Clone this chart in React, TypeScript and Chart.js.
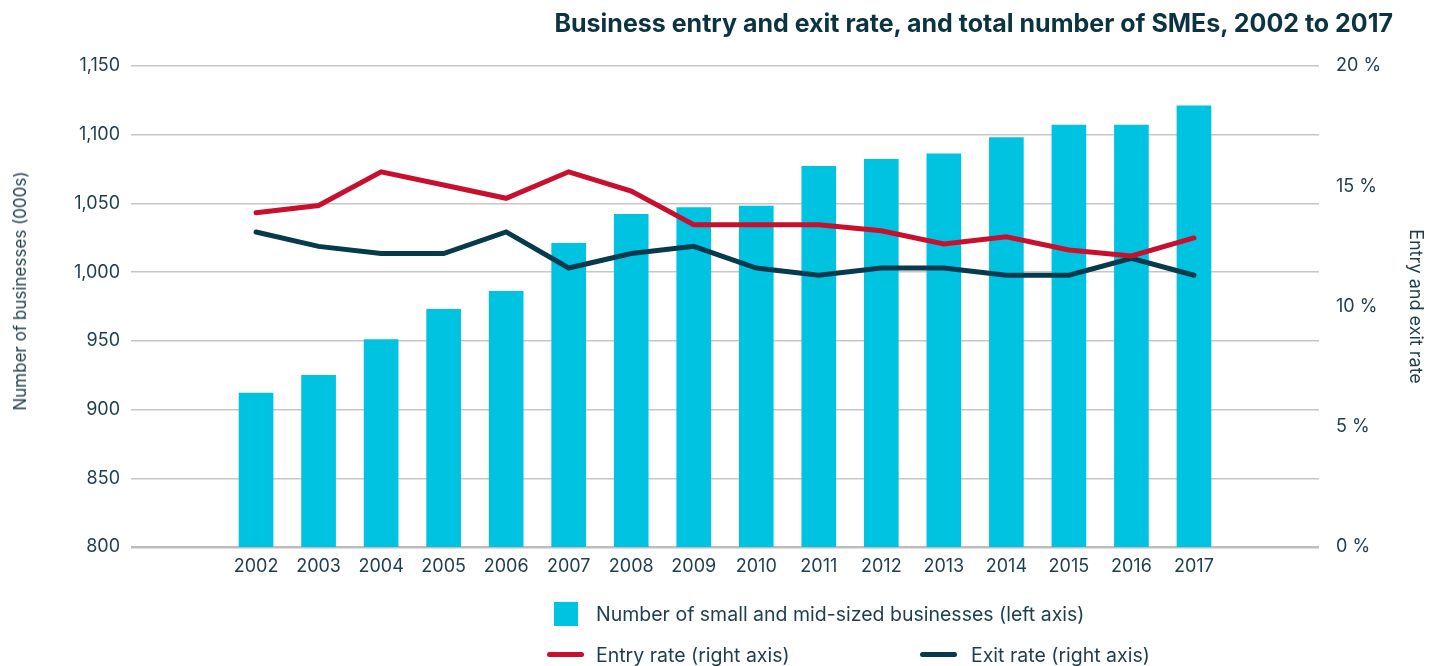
import React, { useEffect, useRef } from 'react';
import { Chart, registerables } from 'chart.js';

Chart.register(...registerables);

const years = ['2002', '2003', '2004', '2005', '2006', '2007', '2008', '2009', '2010', '2011', '2012', '2013', '2014', '2015', '2016', '2017'];
const smeCounts = [912, 925, 951, 973, 986, 1021, 1042, 1047, 1048, 1077, 1082, 1086, 1098, 1107, 1107, 1121];
const entryRate = [13.9, 14.2, 15.6, 15.05, 14.5, 15.6, 14.8, 13.4, 13.4, 13.4, 13.15, 12.6, 12.9, 12.35, 12.1, 12.85];
const exitRate = [13.1, 12.5, 12.2, 12.2, 13.1, 11.6, 12.2, 12.5, 11.6, 11.3, 11.6, 11.6, 11.3, 11.3, 12.0, 11.3];
const leftAxisRange = [800, 1150, 50];
const rightAxisRange = [0, 20, 5];

const TITLE = 'Business entry and exit rate, and total number of SMEs, 2002 to 2017';
const LEFT_TITLE = 'Number of businesses (000s)';
const RIGHT_TITLE = 'Entry and exit rate';
const BAR_LABEL = 'Number of small and mid-sized businesses (left axis)';
const ENTRY_LABEL = 'Entry rate (right axis)';
const EXIT_LABEL = 'Exit rate (right axis)';

const BAR_COLOR = '#00c3e1';
const ENTRY_COLOR = '#c8102e';
const EXIT_COLOR = '#063a4d';
const TEXT_COLOR = '#1c3d4e';
const GRID_COLOR = '#c6c6c6';

const W = 1439;
const H = 666;

const pad = (arr: (number | string)[], fill: any) => [fill, fill, ...arr, fill, fill];

export default function App() {
  const ref = useRef<HTMLCanvasElement | null>(null);

  useEffect(() => {
    if (!ref.current) return;
    const tickFont = { family: 'Inter', size: 18 };
    const chart = new Chart(ref.current, {
      type: 'bar',
      data: {
        labels: pad(years, ''),
        datasets: [
          {
            type: 'line',
            label: ENTRY_LABEL,
            data: pad(entryRate, null),
            yAxisID: 'yR',
            borderColor: ENTRY_COLOR,
            backgroundColor: ENTRY_COLOR,
            borderWidth: 5,
            pointRadius: 0,
            borderCapStyle: 'round',
            tension: 0,
            order: 1,
          } as any,
          {
            type: 'line',
            label: EXIT_LABEL,
            data: pad(exitRate, null),
            yAxisID: 'yR',
            borderColor: EXIT_COLOR,
            backgroundColor: EXIT_COLOR,
            borderWidth: 5,
            pointRadius: 0,
            borderCapStyle: 'round',
            tension: 0,
            order: 2,
          } as any,
          {
            type: 'bar',
            label: BAR_LABEL,
            data: pad(smeCounts, null),
            yAxisID: 'yL',
            backgroundColor: BAR_COLOR,
            barThickness: 34,
            order: 3,
          } as any,
        ],
      },
      options: {
        responsive: false,
        animation: false,
        devicePixelRatio: 1,
        layout: { padding: { top: 66, left: 0, right: 0, bottom: 0 } },
        plugins: {
          legend: { display: false },
          title: { display: false },
          tooltip: { enabled: false },
        },
        scales: {
          x: {
            type: 'category',
            offset: false,
            grid: { display: false, drawTicks: false },
            border: { display: false },
            ticks: {
              autoSkip: false,
              maxRotation: 0,
              minRotation: 0,
              padding: 9,
              color: TEXT_COLOR,
              font: tickFont,
            },
            afterFit: (s: any) => { s.height = H - 547; },
          },
          yL: {
            type: 'linear',
            position: 'left',
            min: leftAxisRange[0],
            max: leftAxisRange[1],
            grid: {
              drawTicks: false,
              color: (c: any) => (c.tick && c.tick.value === leftAxisRange[0] ? '#bdbdbd' : GRID_COLOR),
              lineWidth: (c: any) => (c.tick && c.tick.value === leftAxisRange[0] ? 2.5 : 1.5),
            },
            border: { display: false },
            ticks: {
              stepSize: leftAxisRange[2],
              padding: 11,
              color: TEXT_COLOR,
              font: tickFont,
              callback: (v: any) => Number(v).toLocaleString('en-US'),
            },
            title: { display: false },
            afterFit: (s: any) => { s.width = 131; },
          },
          yR: {
            type: 'linear',
            position: 'right',
            min: rightAxisRange[0],
            max: rightAxisRange[1],
            grid: { display: false, drawTicks: false },
            border: { display: false },
            ticks: {
              stepSize: rightAxisRange[2],
              padding: 17,
              color: TEXT_COLOR,
              font: tickFont,
              callback: (v: any) => `${v} %`,
            },
            title: {
              display: true,
              text: RIGHT_TITLE,
              color: TEXT_COLOR,
              font: { family: 'Inter', size: 18 },
              padding: { top: 13, bottom: 0 },
            },
            afterFit: (s: any) => { s.width = 120; },
          },
        },
      } as any,
    });
    return () => chart.destroy();
  }, []);

  const legendText: React.CSSProperties = {
    position: 'absolute',
    fontFamily: 'Inter',
    fontSize: 19.5,
    color: TEXT_COLOR,
    lineHeight: '24px',
    whiteSpace: 'nowrap',
  };

  return (
    <div style={{ position: 'fixed', left: 0, top: 0, width: W, height: H, background: '#fff', overflow: 'hidden' }}>
      <canvas ref={ref} width={W} height={H} style={{ position: 'absolute', left: 0, top: 0, width: W, height: H }} />
      <div
        style={{
          position: 'absolute',
          right: 46,
          top: 8,
          fontFamily: 'Inter',
          fontWeight: 700,
          fontSize: 25,
          lineHeight: '30px',
          color: '#0b3443',
          whiteSpace: 'nowrap',
        }}
      >
        {TITLE}
      </div>
      <div
        style={{
          position: 'absolute',
          left: 20,
          top: 291,
          transform: 'translate(-50%, -50%) rotate(-90deg)',
          fontFamily: 'Inter',
          fontSize: 17,
          lineHeight: '20px',
          color: TEXT_COLOR,
          whiteSpace: 'nowrap',
        }}
      >
        {LEFT_TITLE}
      </div>
      <div style={{ position: 'absolute', left: 554, top: 602, width: 24, height: 24, background: BAR_COLOR }} />
      <div style={{ ...legendText, left: 596, top: 602 }}>{BAR_LABEL}</div>
      <div style={{ position: 'absolute', left: 547, top: 652, width: 37, height: 5, borderRadius: 3, background: ENTRY_COLOR }} />
      <div style={{ ...legendText, left: 596, top: 643 }}>{ENTRY_LABEL}</div>
      <div style={{ position: 'absolute', left: 920, top: 652, width: 37, height: 5, borderRadius: 3, background: EXIT_COLOR }} />
      <div style={{ ...legendText, left: 971, top: 643 }}>{EXIT_LABEL}</div>
    </div>
  );
}
